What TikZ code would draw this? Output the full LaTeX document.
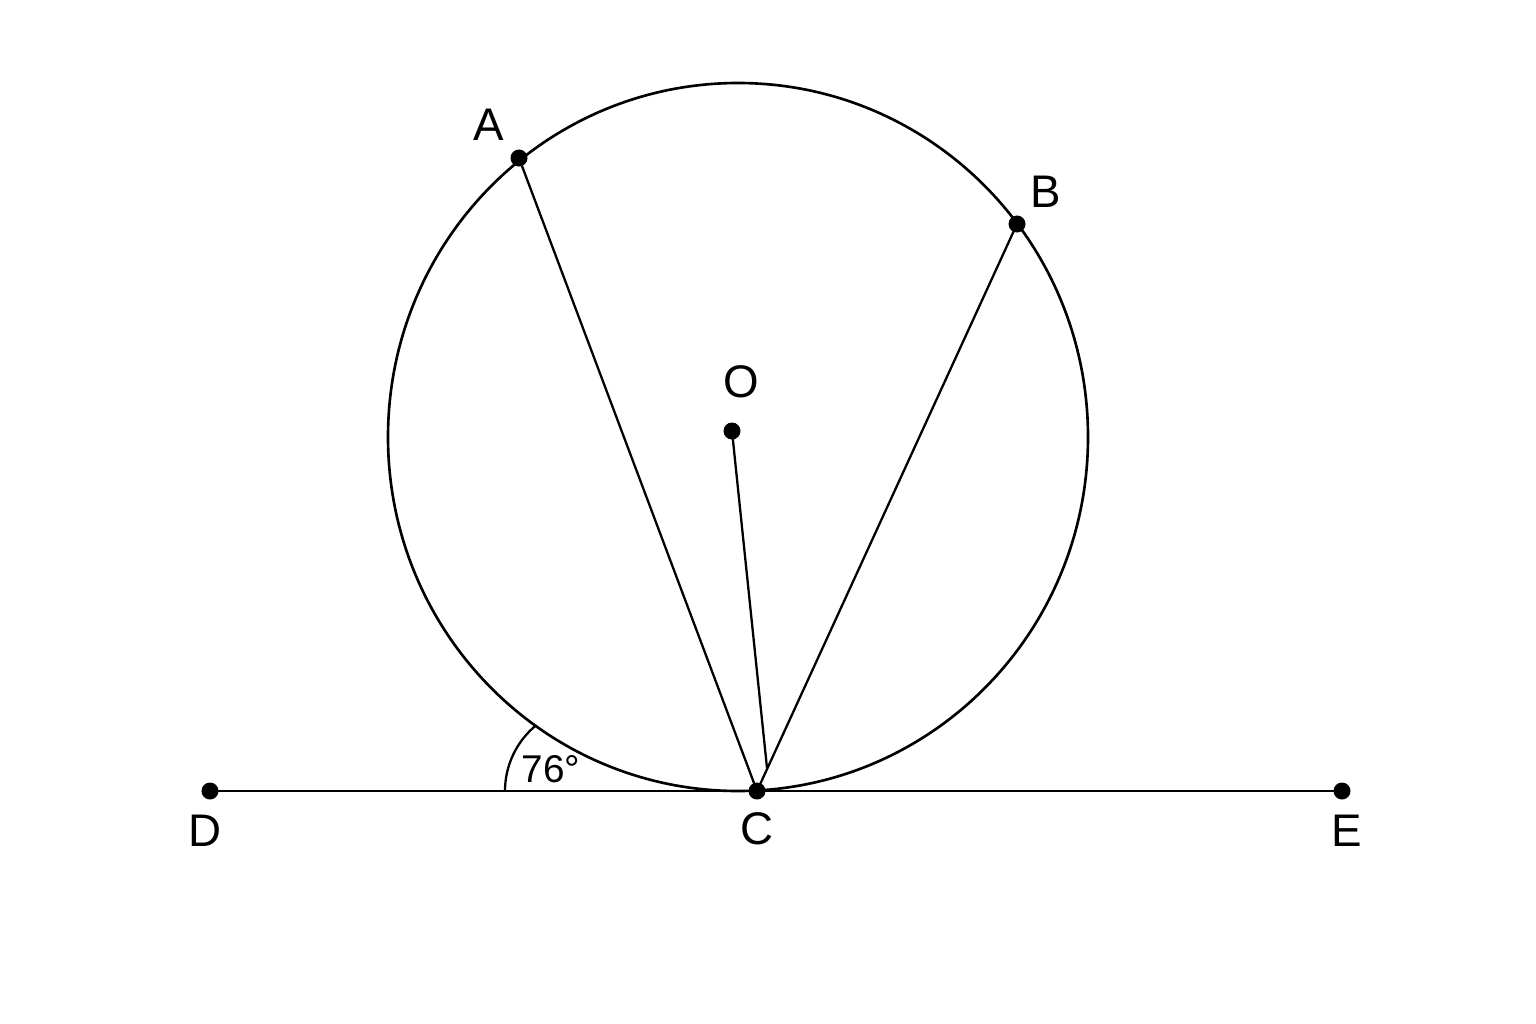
\documentclass[tikz,border=0pt]{standalone}
\usepackage{fontspec}
\setmainfont{Liberation Sans}
\tikzset{pt/.style={circle, fill=black, inner sep=0pt, minimum size=0.17cm}}
\tikzset{lbl/.style={font=\fontsize{13}{15}\selectfont}}

\begin{document}
\begin{tikzpicture}[x=0.01cm, y=-0.01cm, line width=0.65pt]
	\useasboundingbox (0,0) rectangle (1536,1024);
	\draw[line width=0.75pt] (738,437) ellipse (350 and 354);
	\node[pt] (A) at (519,158) {};
	\node[pt] (B) at (1017,224) {};
	\node[pt] (O) at (732,431) {};
	\node[pt] (C) at (757,791) {};
	\node[pt] (D) at (210,791) {};
	\node[pt] (E) at (1342,791) {};
	\coordinate (K) at (767,768);
	\draw (D.center) -- (E.center);
	\draw (A.center) -- (C.center);
	\draw (B.center) -- (C.center);
	\draw (O.center) -- (K);
	\draw (505,791) arc (180:231:85);
	\node[lbl] at (489,125) {A};
	\node[lbl] at (1046,192) {B};
	\node[lbl] at (741,382) {O};
	\node[lbl] at (757,829) {C};
	\node[lbl] at (205,831) {D};
	\node[lbl] at (1347,831) {E};
	\node[font=\fontsize{11}{13}\selectfont] at (551,769) {76°};
\end{tikzpicture}
\end{document}
